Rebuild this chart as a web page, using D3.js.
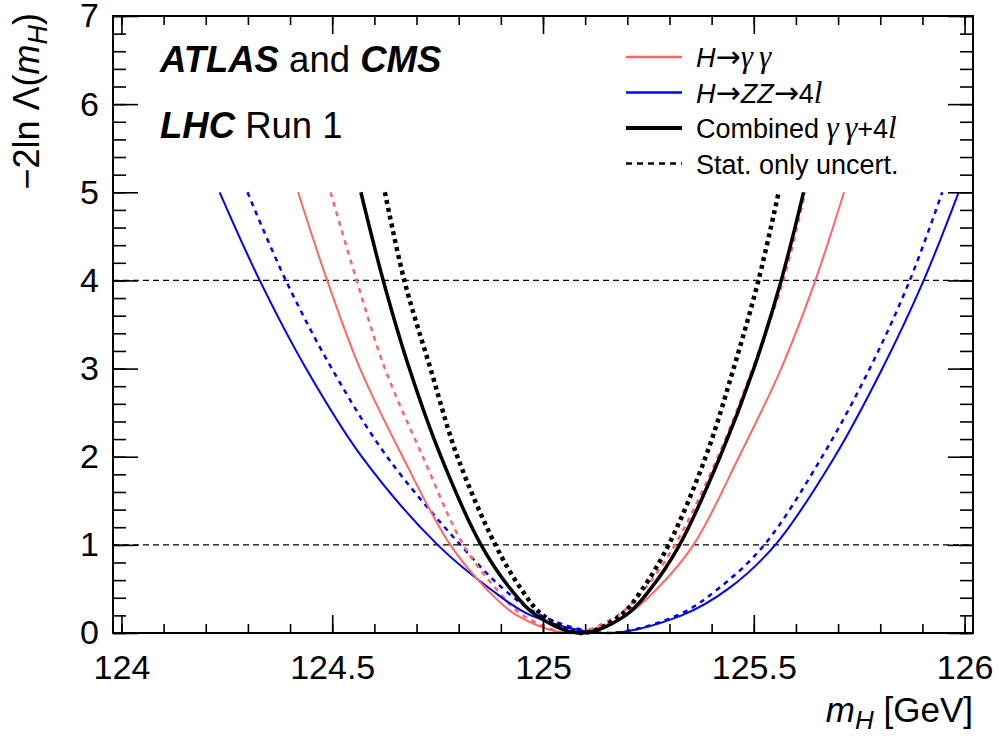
<!DOCTYPE html>
<html>
<head>
<meta charset="utf-8">
<script src="https://cdn.jsdelivr.net/npm/d3@7"></script>
<style>
  body { margin: 0; background: #fff; }
  text { font-family: "Liberation Sans", Arial, sans-serif; }
</style>
</head>
<body>
<script>
// -2 ln Lambda scans: [mH, value]
var ggSolid = [[124.419,5],[124.488,4],[124.566,3],[124.667,2],[124.780,1],[124.866,0.5],[124.938,0.2],[125.067,0],
               [125.196,0.2],[125.270,0.5],[125.357,1],[125.465,2],[125.565,3],[125.646,4],[125.714,5]];
var ggStat  = [[124.496,5],[124.558,4],[124.625,3],[124.715,2],[124.811,1],[124.889,0.5],[124.953,0.2],[125.065,0],
               [125.177,0.2],[125.241,0.5],[125.313,1],[125.415,2],[125.497,3],[125.570,4],[125.622,5]];
var zzSolid = [[124.233,5],[124.328,4],[124.438,3],[124.570,2],[124.750,1],[124.875,0.5],[124.971,0.2],[125.15,0],
               [125.329,0.2],[125.439,0.5],[125.551,1],[125.692,2],[125.805,3],[125.903,4],[125.986,5]];
var zzStat  = [[124.299,5],[124.390,4],[124.499,3],[124.630,2],[124.804,1],[124.906,0.5],[124.995,0.2],[125.15,0],
               [125.318,0.2],[125.415,0.5],[125.525,1],[125.662,2],[125.775,3],[125.870,4],[125.947,5]];
var combSolid = [[124.568,5],[124.621,4],[124.683,3],[124.758,2],[124.853,1],[124.923,0.5],[124.984,0.2],[125.09,0],
                 [125.196,0.2],[125.255,0.5],[125.324,1],[125.420,2],[125.500,3],[125.565,4],[125.618,5]];
var combStat  = [[124.625,5],[124.671,4],[124.733,3],[124.797,2],[124.887,1],[124.948,0.5],[125.000,0.2],[125.092,0],
                 [125.184,0.2],[125.236,0.5],[125.298,1],[125.386,2],[125.452,3],[125.511,4],[125.559,5]];

var xMajor = [124, 124.5, 125, 125.5, 126];
var yMajor = [0, 1, 2, 3, 4, 5, 6, 7];
var refLevels = [1, 4];

var W = 999, H = 736;
var fL = 113, fR = 973, fT = 16, fB = 633;

var svg = d3.select("body").append("svg")
    .attr("width", W)
    .attr("height", H);

var x = d3.scaleLinear().domain([123.98, 126.02]).range([fL, fR]);
var y = d3.scaleLinear().domain([0, 7]).range([fB, fT]);

var red = "#ff6666", blue = "#0000ff";

// reference lines
svg.selectAll("line.ref").data(refLevels).enter().append("line")
    .attr("class", "ref")
    .attr("x1", fL).attr("x2", fR)
    .attr("y1", function(d){ return y(d); })
    .attr("y2", function(d){ return y(d); })
    .attr("stroke", "#000").attr("stroke-width", 1.2)
    .attr("stroke-dasharray", "6,4");

var line = d3.line()
    .x(function(d){ return x(d[0]); })
    .y(function(d){ return y(d[1]); })
    .curve(d3.curveCatmullRom.alpha(0.5));

var curves = [
  {data: zzStat, color: blue, w: 2.5, dash: "5,5"},
  {data: ggStat, color: red, w: 2.5, dash: "5,5"},
  {data: zzSolid, color: blue, w: 2, dash: null},
  {data: ggSolid, color: red, w: 2, dash: null},
  {data: combStat, color: "#000", w: 4.5, dash: "4,4"},
  {data: combSolid, color: "#000", w: 3.5, dash: null}
];

svg.selectAll("path.curve").data(curves).enter().append("path")
    .attr("class", "curve")
    .attr("d", function(d){ return line(d.data); })
    .attr("fill", "none")
    .attr("stroke", function(d){ return d.color; })
    .attr("stroke-width", function(d){ return d.w; })
    .attr("stroke-dasharray", function(d){ return d.dash; });

// axes, ROOT style ticks inside the frame
var fmt = function(d){ return String(d); };
var xMinor = d3.range(1240, 1261, 1).map(function(v){ return v / 10; });
var yMinor = d3.range(0, 36, 1).map(function(v){ return v / 5; });

function styleAxis(g) {
  g.select(".domain").remove();
  g.selectAll("line").attr("stroke", "#000").attr("stroke-width", 1.6);
  g.selectAll("text").attr("font-size", 34).attr("fill", "#000")
    .attr("font-family", "Liberation Sans, Arial, sans-serif");
}

svg.append("g").attr("transform", "translate(0," + fB + ")")
  .call(d3.axisBottom(x).tickValues(xMinor).tickSize(-9).tickFormat(""))
  .call(styleAxis);
svg.append("g").attr("transform", "translate(0," + fB + ")")
  .call(d3.axisBottom(x).tickValues(xMajor).tickSize(-18).tickPadding(22).tickFormat(fmt))
  .call(styleAxis);
svg.append("g").attr("transform", "translate(0," + fT + ")")
  .call(d3.axisTop(x).tickValues(xMinor).tickSize(-9).tickFormat(""))
  .call(styleAxis);
svg.append("g").attr("transform", "translate(0," + fT + ")")
  .call(d3.axisTop(x).tickValues(xMajor).tickSize(-18).tickFormat(""))
  .call(styleAxis);

svg.append("g").attr("transform", "translate(" + fL + ",0)")
  .call(d3.axisLeft(y).tickValues(yMinor).tickSize(-13).tickFormat(""))
  .call(styleAxis);
svg.append("g").attr("transform", "translate(" + fL + ",0)")
  .call(d3.axisLeft(y).tickValues(yMajor).tickSize(-25).tickPadding(14).tickFormat(fmt))
  .call(styleAxis);
svg.append("g").attr("transform", "translate(" + fR + ",0)")
  .call(d3.axisRight(y).tickValues(yMinor).tickSize(-13).tickFormat(""))
  .call(styleAxis);
svg.append("g").attr("transform", "translate(" + fR + ",0)")
  .call(d3.axisRight(y).tickValues(yMajor).tickSize(-25).tickFormat(""))
  .call(styleAxis);

// frame
svg.append("rect")
    .attr("x", fL).attr("y", fT)
    .attr("width", fR - fL).attr("height", fB - fT)
    .attr("fill", "none").attr("stroke", "#000").attr("stroke-width", 2);

// axis titles
var xt = svg.append("text")
    .attr("x", fR).attr("y", 722)
    .attr("text-anchor", "end").attr("font-size", 35);
xt.append("tspan").attr("font-style", "italic").text("m");
xt.append("tspan").attr("font-style", "italic").attr("font-size", 26).attr("dy", 7).text("H");
xt.append("tspan").attr("dy", -7).text(" [GeV]");

var yt = svg.append("text")
    .attr("transform", "translate(39,13) rotate(-90)")
    .attr("text-anchor", "end").attr("font-size", 36);
yt.append("tspan").text("\u22122ln \u039B(");
yt.append("tspan").attr("font-style", "italic").text("m");
yt.append("tspan").attr("font-style", "italic").attr("font-size", 27).attr("dy", 8).text("H");
yt.append("tspan").attr("dy", -8).text(")");

// experiment labels
var t1 = svg.append("text").attr("x", 160).attr("y", 72).attr("font-size", 36.5);
t1.append("tspan").attr("font-weight", "bold").attr("font-style", "italic").text("ATLAS");
t1.append("tspan").text(" and ");
t1.append("tspan").attr("font-weight", "bold").attr("font-style", "italic").text("CMS");

var t2 = svg.append("text").attr("x", 160).attr("y", 138).attr("font-size", 36.5);
t2.append("tspan").attr("font-weight", "bold").attr("font-style", "italic").text("LHC");
t2.append("tspan").text(" Run 1");

// legend
var serif = "Liberation Serif, Times New Roman, serif";
var legend = [
  {color: red, w: 2.5, dash: null, parts: [["H", "i"], ["\u2192", "a"], ["\u03B3\u2009\u03B3", "s"]]},
  {color: blue, w: 2.5, dash: null, parts: [["H", "i"], ["\u2192", "a"], ["ZZ", "i"], ["\u2192", "a"], ["4", ""], ["l", "s"]]},
  {color: "#000", w: 4, dash: null, parts: [["Combined ", ""], ["\u03B3\u2009\u03B3", "s"], ["+4", ""], ["l", "s"]]},
  {color: "#000", w: 2.5, dash: "6,5", parts: [["Stat. only uncert.", ""]]}
];

var lg = svg.selectAll("g.leg").data(legend).enter().append("g")
    .attr("class", "leg")
    .attr("transform", function(d, i){ return "translate(0," + (57 + i * 35.5) + ")"; });

lg.append("line")
    .attr("x1", 626).attr("x2", 682)
    .attr("stroke", function(d){ return d.color; })
    .attr("stroke-width", function(d){ return d.w; })
    .attr("stroke-dasharray", function(d){ return d.dash; });

lg.append("text")
    .attr("x", 696).attr("y", 10)
    .attr("font-size", 27)
    .each(function(d){
      var t = d3.select(this);
      d.parts.forEach(function(p){
        var s = t.append("tspan").text(p[0]);
        if (p[1] === "i") s.attr("font-style", "italic");
        if (p[1] === "a") s.attr("font-family", "DejaVu Sans, sans-serif").attr("font-size", 30);
        if (p[1] === "s") s.attr("font-style", "italic").attr("font-family", serif).attr("font-size", 31);
      });
    });
</script>
</body>
</html>
